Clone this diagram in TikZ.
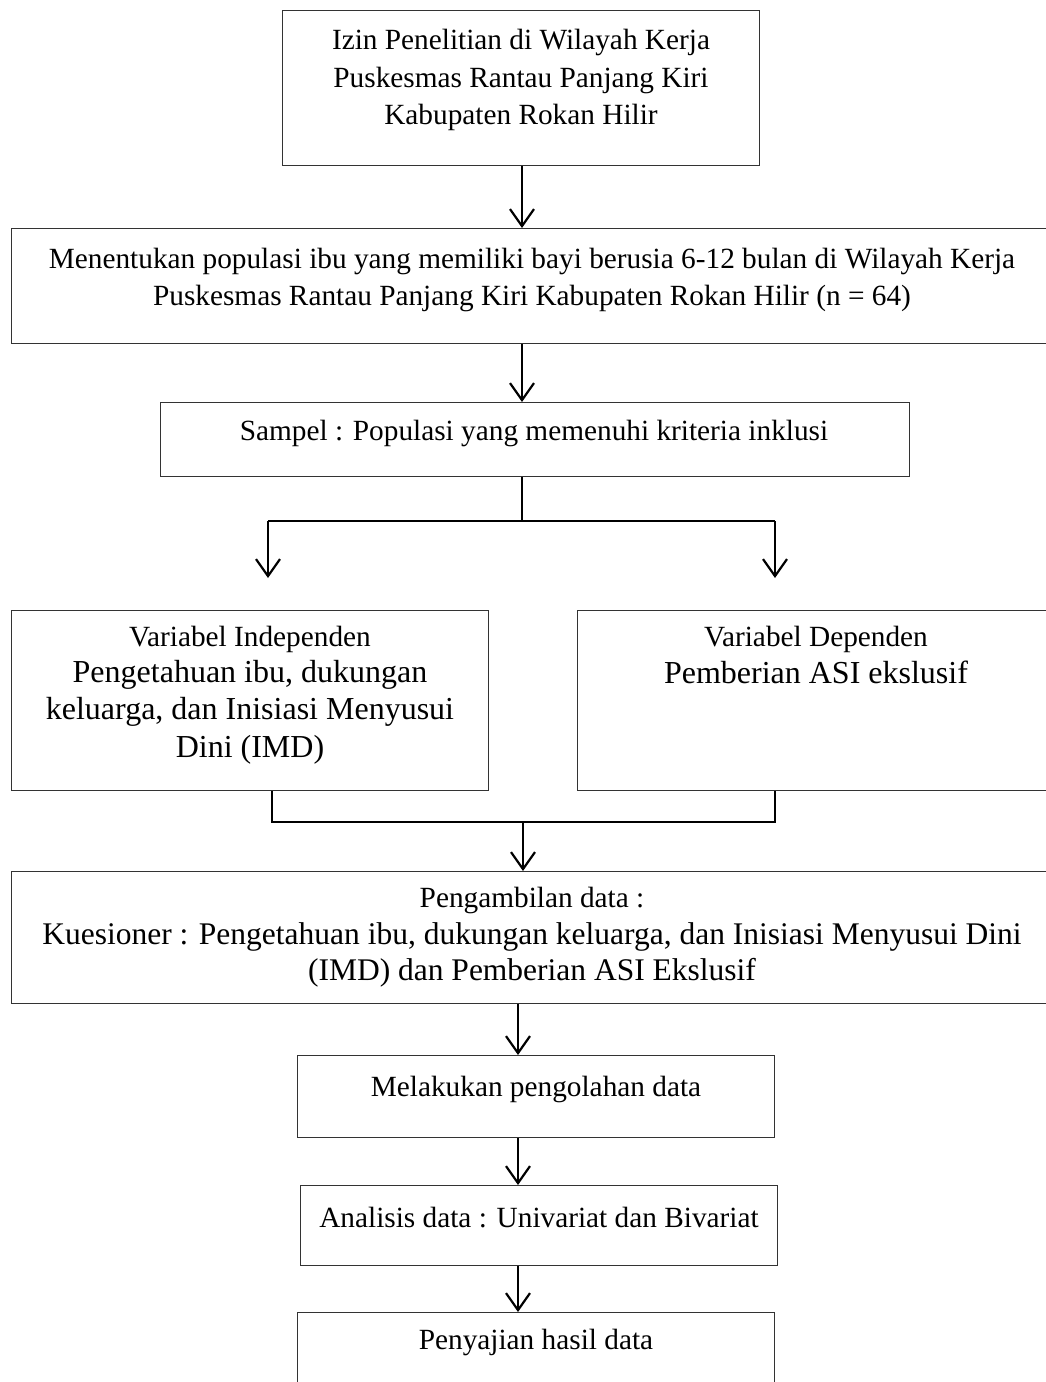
\documentclass[tikz,border=0pt]{standalone}
\usepackage{fontspec}
\setmainfont{Liberation Serif}
\usetikzlibrary{arrows.meta}

\newcommand{\smalltxt}{\fontsize{29.3}{37.5}\selectfont}
\newcommand{\bigtxt}{\fontsize{32}{37.5}\selectfont}

\tikzset{
  box/.style={draw=black!80, line width=1.3pt, rectangle, inner sep=0pt, anchor=north west},
  txt/.style={align=center, inner sep=0pt, font=\smalltxt},
  link/.style={line width=2.2pt, black},
  flow/.style={link, -{Straight Barb[length=17pt,width=24pt,line width=2.2pt]}},
}

\begin{document}
\begin{tikzpicture}[x=1pt, y=-1pt]
\useasboundingbox (0,0) rectangle (1046,1382);

% boxes, placed by their top left corners
\node[box, minimum width=477pt, minimum height=155pt] (b1) at (282,10) {};
\node[box, minimum width=1037pt, minimum height=115pt] (b2) at (11,228) {};
\node[box, minimum width=749pt, minimum height=74pt] (b3) at (160,402) {};
\node[box, minimum width=477pt, minimum height=180pt] (b4) at (11,610) {};
\node[box, minimum width=471pt, minimum height=180pt] (b5) at (577,610) {};
\node[box, minimum width=1037pt, minimum height=132pt] (b6) at (11,871) {};
\node[box, minimum width=477pt, minimum height=82pt] (b7) at (297,1055) {};
\node[box, minimum width=477pt, minimum height=80pt] (b8) at (300,1185) {};
\node[box, minimum width=477pt, minimum height=90pt] (b9) at (297,1312) {};

% texts
\node[txt] (t1) at (521,80) {Izin Penelitian di Wilayah Kerja\\Puskesmas Rantau Panjang Kiri\\Kabupaten Rokan Hilir};
\node[txt] (t2) at (532,280) {Menentukan populasi ibu yang memiliki bayi berusia 6-12 bulan di Wilayah Kerja\\Puskesmas Rantau Panjang Kiri Kabupaten Rokan Hilir (n = 64)};
\node[txt] (t3) at (534,433) {Sampel : Populasi yang memenuhi kriteria inklusi};
\node[txt] (t4a) at (250,639) {Variabel Independen};
\node[txt, font=\bigtxt, anchor=north] (t4b) at (250,660) {Pengetahuan ibu, dukungan\\keluarga, dan Inisiasi Menyusui\\Dini (IMD)};
\node[txt] (t5a) at (816,639) {Variabel Dependen};
\node[txt, font=\bigtxt, anchor=north] (t5b) at (816,661) {Pemberian ASI ekslusif};
\node[txt] (t6a) at (532,900) {Pengambilan data :};
\node[txt, font=\fontsize{31.5}{36.5}\selectfont, anchor=north] (t6b) at (532,922) {Kuesioner : Pengetahuan ibu, dukungan keluarga, dan Inisiasi Menyusui Dini\\(IMD) dan Pemberian ASI Ekslusif};
\node[txt] (t7) at (536,1089) {Melakukan pengolahan data};
\node[txt] (t8) at (539,1218) {Analisis data : Univariat dan Bivariat};
\node[txt] (t9) at (536,1342) {Penyajian hasil data};

% junction points of the branching lines
\coordinate (split) at (522,521);
\coordinate (splitL) at (268,521);
\coordinate (splitR) at (775,521);
\coordinate (joinL) at (272,822);
\coordinate (joinR) at (775,822);
\coordinate (join) at (523,822);
\coordinate (lower) at (518,0);

% connectors
\draw[flow] (b1.south -| split) -- (b2.north -| split);
\draw[flow] (b2.south -| split) -- (b3.north -| split);
\draw[link] (b3.south -| split) -- (split);
\draw[link] (splitL) -- (splitR);
\draw[flow] (splitL) -- (268,578);
\draw[flow] (splitR) -- (775,578);
\draw[link] (b4.south -| joinL) -- (joinL) -- (joinR) -- (b5.south -| joinR);
\draw[flow] (join) -- (b6.north -| join);
\draw[flow] (b6.south -| lower) -- (b7.north -| lower);
\draw[flow] (b7.south -| lower) -- (b8.north -| lower);
\draw[flow] (b8.south -| lower) -- (b9.north -| lower);
\end{tikzpicture}
\end{document}
